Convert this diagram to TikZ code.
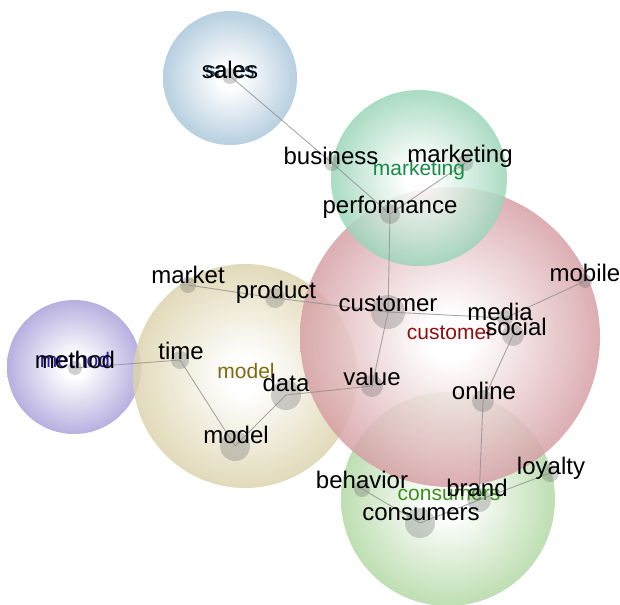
\documentclass[tikz,border=0pt]{standalone}
\usepackage{fontspec}
\setmainfont{Liberation Sans}
\usepackage{xcolor}

% cluster colours
\definecolor{salesblue}{RGB}{100,152,188}
\definecolor{methodblue}{RGB}{100,84,188}
\definecolor{modeltan}{RGB}{192,175,105}
\definecolor{mktgreen}{RGB}{72,178,126}
\definecolor{custred}{RGB}{180,80,90}
\definecolor{consgreen}{RGB}{115,185,90}
% cluster title inks
\definecolor{salesink}{RGB}{20,60,95}
\definecolor{methodink}{RGB}{40,25,170}
\definecolor{modelink}{RGB}{130,105,15}
\definecolor{mktink}{RGB}{20,140,70}
\definecolor{custink}{RGB}{145,15,15}
\definecolor{consink}{RGB}{55,145,25}

\colorlet{bubin}{white}
\colorlet{bubout}{gray}
\pgfdeclareradialshading[bubin,bubout]{bubble}{\pgfpointorigin}{color(0bp)=(bubin); color(4bp)=(bubin); color(42bp)=(bubout); color(50bp)=(bubout)}

\tikzset{
  bubble/.style={circle, inner sep=0pt, minimum size=#1, shading=bubble, opacity=0.84},
  bubcol/.code={\colorlet{bubout}{#1}},
  dot/.style={circle, inner sep=0pt, minimum size=2*#1, fill=black!60, fill opacity=0.3},
  link/.style={draw=black!45, line width=0.9pt, opacity=0.75},
  word/.style={font=\fontsize{24}{28}\selectfont, inner sep=0pt, text height=0.55em, text depth=0pt, yshift=-6pt},
  topic/.style={font=\fontsize{21}{25}\selectfont, inner sep=0pt, text height=0.55em, text depth=0pt, yshift=-5pt, text=#1},
}

\begin{document}
\begin{tikzpicture}[x=1pt,y=-1pt]
  \useasboundingbox (0,0) rectangle (620,604);

  % Bubbles
  \foreach \n/\c/\x/\y/\d in {sales/salesblue/230/78/134, method/methodblue/74/367/134,
      model/modeltan/245/376/224, consumers/consgreen/448/499/214,
      customer/custred/450/337/300, marketing/mktgreen/419/178/176}
    \node[bubble=\d pt, bubcol=\c] (\n-b) at (\x,\y) {};

  % Keyword dots
  \foreach \n/\x/\y/\r in {sales/230/76/8, business/332/163/8, marketing/465/163/8,
      performance/390/214/10, market/188/285/8, product/275/298/10,
      customer/388/312/17, media/505/318/8, social/513/335/11, mobile/585/281/7,
      value/372/386/11, online/483/401/11, time/180/360/9, data/286/395/15,
      model/235/446/15, method/75/368/7, behavior/362/489/8,
      consumers/420/523/15, brand/479/500/12, loyalty/550/473/9}
    \node[dot=\r] (\n) at (\x,\y) {};

  % Links
  \foreach \a/\b in {sales/business, business/performance, marketing/performance,
      performance/customer, customer/value, market/product, product/customer,
      customer/media, media/mobile, social/online, value/data, method/time,
      time/model, model/data, online/brand, behavior/consumers,
      consumers/brand, brand/loyalty}
    \draw[link] (\a.center) -- (\b.center);

  % Cluster titles
  \node[topic=salesink] (sales-t) at (230,70) {sales};
  \node[topic=methodink] (method-t) at (75,360) {method};
  \node[topic=modelink] (model-t) at (246,371) {model};
  \node[topic=mktink] (marketing-t) at (419,168) {marketing};
  \node[topic=custink] (customer-t) at (450,332) {customer};
  \node[topic=consink] (consumers-t) at (449,493) {consumers};

  % Keywords
  \foreach \n/\x/\y in {sales/230/70, business/331/156, marketing/460/154,
      performance/390/205, market/188/275, product/276/290, customer/388/303,
      media/500/312, social/516/327, mobile/585/273, value/372/377,
      online/484/391, time/181/351, data/286/383, model/236/435,
      method/75/360, behavior/362/480, consumers/421/512, brand/477/488,
      loyalty/551/466}
    \node[word] (\n-w) at (\x,\y) {\n};

\end{tikzpicture}
\end{document}
